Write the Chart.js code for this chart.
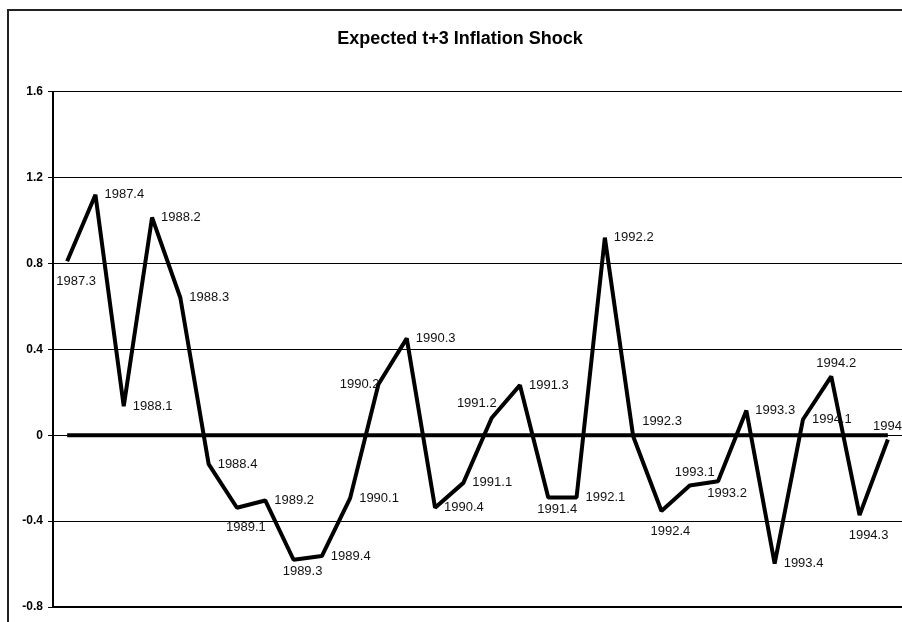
<!DOCTYPE html>
<html>
<head>
<meta charset="utf-8">
<script src="https://cdn.jsdelivr.net/npm/chart.js@4/dist/chart.umd.min.js"></script>
<style>
  html, body { margin: 0; padding: 0; background: #fff; }
  #wrap { width: 902px; height: 622px; }
</style>
</head>
<body>
<div id="wrap"><canvas id="shock-chart"></canvas></div>
<script>
// quarters shown on the chart
const quarters = ['1987.3', '1987.4', '1988.1', '1988.2', '1988.3', '1988.4',
    '1989.1', '1989.2', '1989.3', '1989.4', '1990.1', '1990.2', '1990.3', '1990.4',
    '1991.1', '1991.2', '1991.3', '1991.4', '1992.1', '1992.2', '1992.3', '1992.4',
    '1993.1', '1993.2', '1993.3', '1993.4', '1994.1', '1994.2', '1994.3', '1994.4'];

// expected t+3 inflation shock
const shock = [0.81, 1.12, 0.135, 1.014, 0.64, -0.135,
    -0.338, -0.304, -0.58, -0.563, -0.293, 0.237, 0.451, -0.338,
    -0.222, 0.08, 0.233, -0.29, -0.29, 0.92, -0.005, -0.353,
    -0.234, -0.214, 0.115, -0.598, 0.073, 0.274, -0.372, -0.02];

// the heavy zero line
const baseline = [0, 0, 0, 0, 0, 0, 0, 0, 0, 0, 0, 0, 0, 0, 0,
    0, 0, 0, 0, 0, 0, 0, 0, 0, 0, 0, 0, 0, 0, 0];

// y axis
const yMin = -0.8;
const yMax = 1.6;
const yStep = 0.4;

// where each point label sits (r = right, l = left, t = above, b = below ...)
const labelPlace = ['bb', 'r', 'r', 'r', 'r', 'r',
    'bb', 'r', 'b', 'r', 'r', 'l', 'r', 'r',
    'r', 'tl', 'r', 'b', 'r', 'r', 'tr', 'bb',
    't', 'b', 'r', 'r', 'r', 't', 'bb', 't'];

const FONT = "'Liberation Sans', Arial, sans-serif";

// 外枠
const framePlugin = {
    id: 'frame',
    beforeDraw(chart) {
        const c = chart.ctx;
        c.save();
        c.strokeStyle = '#222';
        c.lineWidth = 2;
        c.strokeRect(8, 10, chart.width + 20, chart.height + 20);
        c.restore();
    }
};

// 点ラベル
const pointLabels = {
    id: 'pointLabels',
    afterDatasetsDraw(chart) {
        const c = chart.ctx;
        const meta = chart.getDatasetMeta(0);
        c.save();
        c.font = '13px ' + FONT;
        c.fillStyle = '#111';
        c.textBaseline = 'middle';
        meta.data.forEach((pt, i) => {
            const txt = quarters[i];
            let x = pt.x, y = pt.y;
            switch (labelPlace[i]) {
                case 'r': c.textAlign = 'left'; x += 9; break;
                case 'l': c.textAlign = 'right'; x += 1; break;
                case 'tl': c.textAlign = 'right'; x += 5; y -= 15; break;
                case 'tr': c.textAlign = 'left'; x += 9; y -= 15; break;
                case 't': c.textAlign = 'center'; x += 5; y -= 13; break;
                case 'b': c.textAlign = 'center'; x += 9; y += 12; break;
                case 'bb': c.textAlign = 'center'; x += 9; y += 20; break;
            }
            c.fillText(txt, x, y);
        });
        c.restore();
    }
};

new Chart(document.getElementById('shock-chart'), {
    type: 'line',
    data: {
        labels: quarters,
        datasets: [{
            label: 'Expected t+3 Inflation Shock',
            data: shock,
            borderColor: '#000',
            borderWidth: 4,
            pointRadius: 0,
            tension: 0,
            borderJoinStyle: 'bevel',
            order: 0
        }, {
            label: 'zero',
            data: baseline,
            borderColor: '#000',
            borderWidth: 4,
            pointRadius: 0,
            order: 1
        }]
    },
    options: {
        responsive: true,
        maintainAspectRatio: false,
        animation: false,
        layout: { padding: { left: 18, right: 0, top: 0, bottom: 15 } },
        plugins: {
            legend: { display: false },
            tooltip: { enabled: false },
            title: {
                display: true,
                text: 'Expected t+3 Inflation Shock',
                color: '#000',
                font: { family: FONT, size: 18, weight: 'bold' },
                padding: { top: 28, bottom: 42 }
            }
        },
        scales: {
            x: {
                offset: true,
                grid: { display: false, drawTicks: false },
                ticks: { display: false },
                border: { color: '#000', width: 1.5 }
            },
            y: {
                min: yMin,
                max: yMax,
                afterFit(scale) { scale.width = 35; },
                ticks: {
                    stepSize: yStep,
                    padding: 5,
                    color: '#000',
                    font: { family: FONT, size: 12, weight: 'bold' },
                    callback: (v) => Math.abs(v) < 1e-9 ? '0' : v.toFixed(1)
                },
                grid: { color: '#000', lineWidth: 1, tickLength: 5 },
                border: { color: '#000', width: 2 }
            }
        }
    },
    plugins: [framePlugin, pointLabels]
});
</script>
</body>
</html>
